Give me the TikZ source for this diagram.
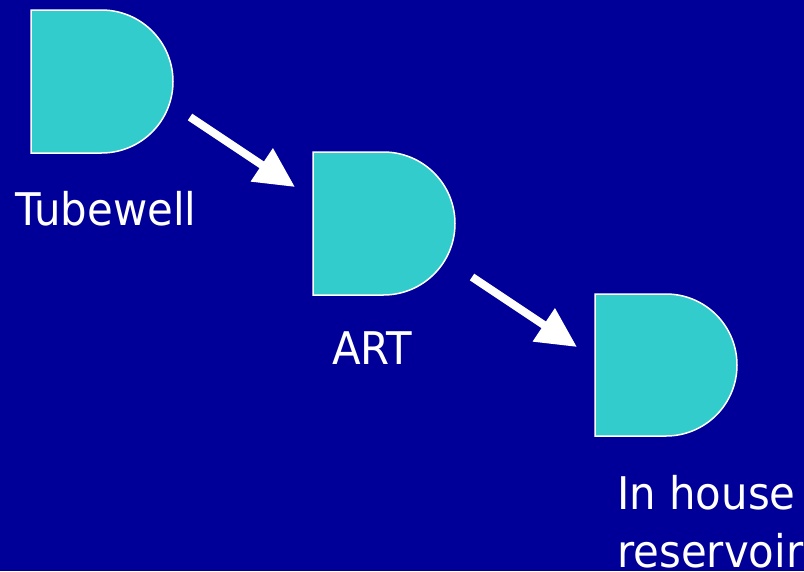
\documentclass[tikz,border=0pt]{standalone}
\usepackage{fontspec}
\setmainfont[FakeStretch=0.93]{DejaVu Sans}
\usetikzlibrary{arrows.meta}
\definecolor{slidebg}{HTML}{000099}
\definecolor{tankfill}{HTML}{33CCCC}
\tikzset{
  tank/.style={fill=tankfill, draw=white, line width=1.5pt},
  flow/.style={draw=white, line width=8pt, -{Triangle[length=40pt,width=38pt]}},
  caption/.style={text=white, inner sep=0pt, anchor=base west,
    font=\fontsize{45}{58}\selectfont},
}
% draws one D-shaped tank: left edge #1, top #2, bottom #3
\newcommand{\tankat}[3]{%
  \pgfmathsetmacro{\tankr}{(#3-#2)/2}%
  \draw[tank] (#1,#2) -- ({#1+142-\tankr},#2) arc (-90:90:\tankr) -- (#1,#3) -- cycle;%
}
\begin{document}
\begin{tikzpicture}[x=1pt,y=-1pt]
  \fill[slidebg] (0,0) rectangle (804,571);
  \useasboundingbox (0,0) rectangle (804,571);

  \tankat{31}{10}{153}
  \tankat{313}{152}{295}
  \tankat{595}{294}{436}

  \node[caption] (tubewell) at (15,225) {Tubewell};
  \node[caption] (art) at (332,364) {ART};
  \node[caption] (house) at (617,509) {In house};
  \node[caption] (reservoir) at (617,567) {reservoir};

  \coordinate (a1s) at (190,117);
  \coordinate (a1e) at (295,187);
  \coordinate (a2s) at (472,277);
  \coordinate (a2e) at (577,347);
  \draw[flow] (a1s) -- (a1e);
  \draw[flow] (a2s) -- (a2e);
\end{tikzpicture}
\end{document}
